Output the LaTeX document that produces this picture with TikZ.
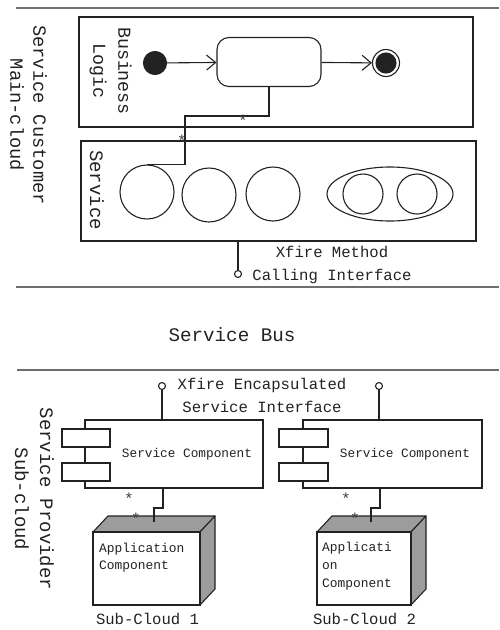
\documentclass[tikz,border=0pt]{standalone}
\usepackage{fontspec}
\setmainfont{Liberation Mono}
\usetikzlibrary{arrows.meta,shapes.geometric}
\definecolor{ink}{HTML}{222222}
\definecolor{rulegray}{HTML}{6E6E6E}
\definecolor{shade}{HTML}{9C9C9C}
\tikzset{
  ln/.style={draw=ink, line width=1.1pt},
  boxst/.style={ln, rectangle, inner sep=0pt},
  circ/.style={ln, circle, inner sep=0pt},
  port/.style={ln, circle, inner sep=0pt, minimum size=7pt, fill=white},
  rule/.style={draw=rulegray, line width=2.2pt},
  vlabel/.style={rotate=-90, align=center, inner sep=0pt, text=ink},
  star/.style={inner sep=0pt, font=\fontsize{16}{16}\selectfont, text=black!75},
  lbl/.style={inner sep=0pt, align=center, text=ink, font=\fontsize{15.6}{23}\selectfont},
  barb/.style={-{Straight Barb[length=9pt,width=15pt,line width=1.1pt]}},
  face/.style={ln, fill=shade, line join=round},
}
\begin{document}
\begin{tikzpicture}[x=1pt,y=-1pt]
\useasboundingbox (0,0) rectangle (499,630);
% horizontal rules
\coordinate (r1a) at (16,8);   \coordinate (r1b) at (499,8);
\coordinate (r2a) at (16,287); \coordinate (r2b) at (499,287);
\coordinate (r3a) at (17,370); \coordinate (r3b) at (499,370);
\draw[rule] (r1a) -- (r1b);
\draw[rule] (r2a) -- (r2b);
\draw[rule, line width=1.5pt] (r3a) -- (r3b);

% Service customer side label
\node[vlabel, font=\fontsize{18.7}{23}\selectfont] (custlbl) at (28.5,115) {Service Customer\\Main-cloud};

% Business logic box
\node[boxst, minimum width=394pt, minimum height=110pt] (bl) at (276,72) {};
\node[vlabel, font=\fontsize{18.3}{25}\selectfont] (bllbl) at (110.5,71) {Business\\Logic};
\node[circ, fill=ink, minimum size=23pt] (start) at (155,63) {};
\node[ln, rectangle, rounded corners=12pt, minimum width=104pt, minimum height=49pt, inner sep=0pt] (act) at (269,62) {};
\node[circ, minimum size=27pt] (fin) at (386,63) {};
\node[circ, fill=ink, minimum size=20pt] (finin) at (386,63) {};
\draw[ln, barb] (start) -- (act);
\draw[ln, barb] (act) -- (fin);

% Service box
\node[boxst, minimum width=395pt, minimum height=100pt] (svc) at (278.5,191) {};
\node[vlabel, font=\fontsize{19}{25}\selectfont] (svclbl) at (97,190) {Service};
\node[circ, minimum size=54pt] (c1) at (147,192) {};
\node[circ, minimum size=54pt] (c2) at (209,195) {};
\node[circ, minimum size=54pt] (c3) at (273,194) {};
\node[ln, ellipse, minimum width=126pt, minimum height=54pt, inner sep=0pt] (ell) at (390,194) {};
\node[circ, minimum size=40pt] (i1) at (363,194) {};
\node[circ, minimum size=40pt] (i2) at (417,194) {};

% connector business -> service
\coordinate (k1) at (185,116);
\draw[ln] (act.south) |- (k1) |- (c1.north);
\node[star] (s1) at (243,121) {*};
\node[star] (s2) at (182,141) {*};

% Xfire method calling interface
\coordinate (svcport) at (238,241);
\node[port] (p0) at (238,274) {};
\draw[ln] (svcport) -- (p0.north);
\node[lbl] (xm) at (332,265) {Xfire Method\\Calling Interface};

% Service bus
\node[inner sep=0pt, text=ink, font=\fontsize{19.2}{23}\selectfont] (bus) at (232,335) {Service Bus};

% provider side label
\node[vlabel, font=\fontsize{19}{25}\selectfont] (provlbl) at (34.5,499) {Service Provider\\Sub-cloud};

% Xfire encapsulated interface
\node[lbl] (xe) at (262,395) {Xfire Encapsulated\\Service Interface};

% Service components
\node[boxst, fill=white, minimum width=178pt, minimum height=68pt] (sc1) at (174,454) {};
\node[boxst, fill=white, minimum width=179pt, minimum height=68pt] (sc2) at (392.5,454) {};
\node[boxst, fill=white, minimum width=48pt, minimum height=18pt] (sc1a) at (86,438) {};
\node[boxst, fill=white, minimum width=48pt, minimum height=18pt] (sc1b) at (86,472) {};
\node[boxst, fill=white, minimum width=49pt, minimum height=18pt] (sc2a) at (303.5,438) {};
\node[boxst, fill=white, minimum width=49pt, minimum height=18pt] (sc2b) at (303.5,472) {};
\node[inner sep=0pt, text=ink, font=\fontsize{12.75}{16}\selectfont] (sc1t) at (187,454) {Service Component};
\node[inner sep=0pt, text=ink, font=\fontsize{12.75}{16}\selectfont] (sc2t) at (405,454) {Service Component};

\node[port] (p1) at (162,386) {};
\node[port] (p2) at (379,386) {};
\draw[ln] (p1.south) -- (p1.south |- sc1.north);
\draw[ln] (p2.south) -- (p2.south |- sc2.north);

% application component 3D boxes
\draw[face] (93,532) -- (108,516) -- (215,516) -- (200,532) -- cycle;
\draw[face] (200,532) -- (215,516) -- (215,589) -- (200,605) -- cycle;
\node[boxst, fill=white, minimum width=107pt, minimum height=73pt] (app1) at (146.5,568.5) {};
\draw[face] (317,532) -- (332,516) -- (426,516) -- (411,532) -- cycle;
\draw[face] (411,532) -- (426,516) -- (426,589) -- (411,605) -- cycle;
\node[boxst, fill=white, minimum width=94pt, minimum height=73pt] (app2) at (364,568.5) {};
\node[anchor=north west, inner sep=0pt, align=left, text=ink, font=\fontsize{12.9}{17}\selectfont] (app1t) at (99,543) {Application\\Component};
\node[anchor=north west, inner sep=0pt, align=left, text=ink, font=\fontsize{12.9}{18}\selectfont] (app2t) at (322,542) {Applicati\\on\\Component};

% component -> application connectors
\coordinate (e1) at (154,522);
\coordinate (e2) at (371,522);
\draw[ln] (163,488) -- (163,508) -- (154,508) -- (e1);
\draw[ln] (380,488) -- (380,508) -- (371,508) -- (e2);
\node[star] (s3) at (129,499) {*};
\node[star] (s4) at (136,519) {*};
\node[star] (s5) at (346,499) {*};
\node[star] (s6) at (355,519) {*};

% sub-cloud labels
\node[lbl] (sub1) at (147.5,619) {Sub-Cloud 1};
\node[lbl] (sub2) at (364.5,619) {Sub-Cloud 2};
\end{tikzpicture}
\end{document}
